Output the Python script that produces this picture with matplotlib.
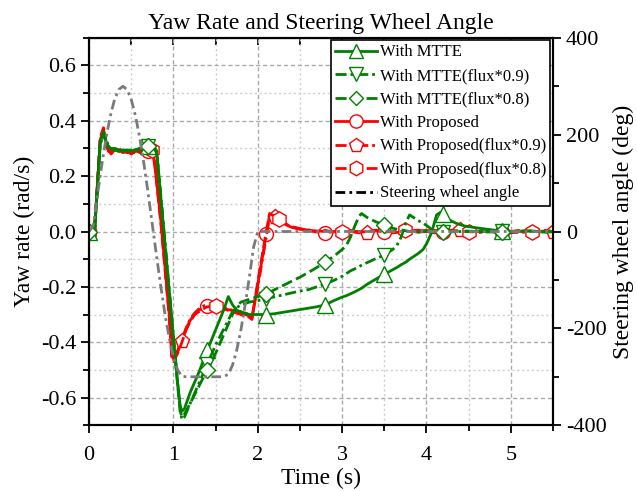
import matplotlib
matplotlib.use("Agg")
import matplotlib.pyplot as plt
import numpy as np
from matplotlib.lines import Line2D
from matplotlib.ticker import MultipleLocator, FormatStrFormatter

plt.rcParams["font.family"] = ["Liberation Serif", "DejaVu Serif"]
plt.rcParams["axes.unicode_minus"] = False

# yaw rate, MTTE controller (three flux levels)
t_mtte = [
    0, 0.03, 0.06, 0.1, 0.13, 0.17, 0.2, 0.25, 0.3, 0.35,
    0.4, 0.45, 0.5, 0.55, 0.6, 0.65, 0.7, 0.74, 0.8, 0.85,
    0.9, 0.95, 1.0, 1.05, 1.08, 1.1, 1.13, 1.2, 1.3, 1.4,
    1.5, 1.6, 1.65, 1.7, 1.75, 1.8, 1.9, 2.0, 2.1, 2.2,
    2.3, 2.4, 2.5, 2.6, 2.7, 2.8, 2.9, 3.0, 3.05, 3.1,
    3.15, 3.2, 3.23, 3.3, 3.4, 3.5, 3.6, 3.65, 3.7, 3.76,
    3.8, 3.85, 3.9, 3.96, 4.0, 4.06, 4.12, 4.17, 4.2, 4.25,
    4.35, 4.45, 4.6, 4.8, 4.9, 5.0, 5.2, 5.4, 5.5,
]
yaw_mtte = [
    0.0, 0.01, -0.01, 0.17, 0.32, 0.36, 0.32, 0.30, 0.30, 0.295,
    0.29, 0.295, 0.29, 0.295, 0.30, 0.305, 0.31, 0.32, 0.29, 0.12,
    -0.05, -0.22, -0.39, -0.55, -0.63, -0.65, -0.64, -0.58, -0.51, -0.43,
    -0.355, -0.28, -0.235, -0.265, -0.285, -0.29, -0.30, -0.30, -0.30, -0.297,
    -0.292, -0.287, -0.282, -0.277, -0.272, -0.265, -0.25, -0.237, -0.232, -0.225,
    -0.218, -0.21, -0.205, -0.19, -0.172, -0.155, -0.138, -0.13, -0.12, -0.11,
    -0.10, -0.09, -0.08, -0.065, -0.045, -0.005, 0.06, 0.07, 0.065, 0.045,
    0.03, 0.02, 0.013, 0.005, 0.003, 0.0, 0.002, -0.002, 0.0,
]
yaw_mtte_09 = [
    0.0, 0.01, -0.01, 0.16, 0.31, 0.36, 0.33, 0.30, 0.295, 0.29,
    0.29, 0.295, 0.29, 0.295, 0.30, 0.305, 0.31, 0.315, 0.29, 0.13,
    -0.04, -0.21, -0.38, -0.55, -0.65, -0.68, -0.67, -0.62, -0.55, -0.48,
    -0.41, -0.35, -0.32, -0.29, -0.275, -0.265, -0.255, -0.25, -0.243, -0.236,
    -0.229, -0.222, -0.215, -0.21, -0.20, -0.19, -0.177, -0.162, -0.152, -0.142,
    -0.135, -0.127, -0.122, -0.112, -0.098, -0.085, -0.065, -0.05, -0.02, 0.035,
    0.06, 0.05, 0.04, 0.03, 0.022, 0.008, 0.004, 0.002, 0.0, 0.003,
    -0.002, 0.002, 0.0, -0.002, 0.002, 0.0, 0.002, -0.002, 0.0,
]
yaw_mtte_08 = [
    0.0, 0.01, -0.01, 0.17, 0.32, 0.355, 0.32, 0.30, 0.295, 0.29,
    0.295, 0.29, 0.295, 0.29, 0.30, 0.305, 0.31, 0.315, 0.29, 0.12,
    -0.05, -0.22, -0.39, -0.56, -0.65, -0.67, -0.66, -0.62, -0.56, -0.50,
    -0.44, -0.37, -0.335, -0.30, -0.27, -0.255, -0.245, -0.235, -0.227, -0.21,
    -0.195, -0.18, -0.165, -0.148, -0.13, -0.11, -0.09, -0.065, -0.05, -0.02,
    0.02, 0.055, 0.065, 0.05, 0.035, 0.024, 0.012, 0.008, 0.005, 0.002,
    0.0, 0.003, -0.002, 0.0, 0.002, -0.002, 0.0, 0.002, 0.0, -0.002,
    0.002, 0.0, -0.002, 0.002, 0.0, -0.002, 0.002, 0.0, -0.002,
]

# yaw rate, proposed controller (three flux levels)
t_prop = [
    0, 0.03, 0.06, 0.1, 0.13, 0.17, 0.2, 0.23, 0.26, 0.3,
    0.35, 0.4, 0.45, 0.5, 0.55, 0.6, 0.65, 0.7, 0.75, 0.78,
    0.85, 0.9, 0.95, 0.98, 1.0, 1.05, 1.1, 1.15, 1.2, 1.25,
    1.3, 1.35, 1.4, 1.5, 1.6, 1.7, 1.8, 1.9, 1.93, 2.0,
    2.05, 2.1, 2.14, 2.2, 2.25, 2.3, 2.4, 2.5, 2.6, 2.7,
    2.8, 2.9, 3.0, 3.1, 3.2, 3.3, 3.4, 3.5, 3.6, 3.75,
    3.9, 4.0, 4.1, 4.2, 4.3, 4.4, 4.5, 4.6, 4.75, 4.9,
    5.0, 5.1, 5.25, 5.4, 5.5,
]
yaw_prop = [
    0.0, 0.01, -0.01, 0.18, 0.33, 0.37, 0.32, 0.29, 0.285, 0.30,
    0.295, 0.285, 0.29, 0.28, 0.29, 0.29, 0.295, 0.29, 0.29, 0.24,
    0.04, -0.13, -0.30, -0.45, -0.46, -0.43, -0.39, -0.35, -0.32, -0.30,
    -0.285, -0.275, -0.27, -0.27, -0.28, -0.285, -0.295, -0.305, -0.315, -0.19,
    -0.10, -0.01, 0.06, 0.05, 0.04, 0.03, 0.015, 0.01, 0.005, 0.0,
    -0.005, 0.0, 0.005, 0.0, -0.005, 0.0, 0.005, 0.0, -0.005, 0.0,
    0.005, 0.0, -0.005, 0.0, 0.005, 0.0, -0.005, 0.0, 0.005, 0.0,
    -0.005, 0.0, 0.005, 0.0, -0.005,
]
yaw_prop_09 = [
    0.0, 0.012, -0.008, 0.17, 0.32, 0.365, 0.315, 0.29, 0.29, 0.295,
    0.29, 0.29, 0.285, 0.285, 0.285, 0.29, 0.29, 0.295, 0.29, 0.245,
    0.05, -0.12, -0.29, -0.44, -0.455, -0.435, -0.395, -0.35, -0.315, -0.295,
    -0.28, -0.27, -0.265, -0.27, -0.275, -0.285, -0.29, -0.30, -0.31, -0.20,
    -0.11, -0.02, 0.055, 0.052, 0.042, 0.03, 0.018, 0.01, 0.004, 0.002,
    0.0, -0.004, 0.0, 0.004, 0.0, -0.004, 0.0, 0.004, 0.0, -0.004,
    0.0, 0.004, 0.0, -0.004, 0.0, 0.004, 0.0, -0.004, 0.0, 0.004,
    0.0, -0.004, 0.0, 0.004, 0.0,
]
yaw_prop_08 = [
    0.0, 0.008, -0.012, 0.19, 0.34, 0.375, 0.325, 0.295, 0.28, 0.295,
    0.30, 0.29, 0.29, 0.285, 0.295, 0.285, 0.29, 0.29, 0.295, 0.235,
    0.03, -0.14, -0.31, -0.46, -0.47, -0.44, -0.40, -0.355, -0.325, -0.30,
    -0.29, -0.28, -0.272, -0.27, -0.28, -0.29, -0.30, -0.31, -0.318, -0.18,
    -0.09, 0.0, 0.065, 0.055, 0.045, 0.032, 0.016, 0.008, 0.006, -0.002,
    0.004, -0.002, 0.0, 0.004, -0.002, 0.0, 0.004, -0.002, 0.0, 0.004,
    -0.002, 0.0, 0.004, -0.002, 0.0, 0.004, -0.002, 0.0, 0.004, -0.002,
    0.0, 0.004, -0.002, 0.0, 0.004,
]

# steering wheel input (deg), sine with dwell
t_steer = [
    0, 0.05, 0.1, 0.15, 0.2, 0.25, 0.3, 0.35, 0.4, 0.45,
    0.5, 0.55, 0.6, 0.65, 0.7, 0.75, 0.8, 0.85, 0.9, 0.95,
    1.0, 1.05, 1.1, 1.15, 1.2, 1.3, 1.4, 1.5, 1.55, 1.6,
    1.65, 1.7, 1.75, 1.8, 1.85, 1.9, 1.95, 2.0, 2.5, 3.0,
    3.5, 4.0, 4.5, 5.0, 5.5,
]
steer = [
    0, 13, 78, 138, 193, 238, 272, 293, 300, 293,
    272, 238, 193, 139, 78, 13, -52, -114, -172, -220,
    -260, -286, -299, -300, -300, -300, -300, -300, -300, -299,
    -295, -276, -245, -203, -151, -94, -32, 0, 0, 0,
    0, 0, 0, 0, 0,
]

marks_07 = [0, 0.7, 1.4, 2.1, 2.8, 3.5, 4.2, 4.9]
marks_pent = [0, 1.1, 2.2, 3.3, 4.4, 5.5]
marks_hex = [0, 0.75, 1.5, 2.25, 3.0, 3.75, 4.5, 5.25]


def mark_idx(t, times):
    t = np.asarray(t)
    return [int(np.argmin(np.abs(t - m))) for m in times]


GREEN = "#008000"
RED = "#ff0000"
dash = (0, (4, 1.6))
dashdot = (0, (4, 1.4, 1, 1.4))

fig = plt.figure(figsize=(6.37, 4.91), dpi=100)
ax = fig.add_axes([0.140, 0.134, 0.728, 0.789])
ax2 = ax.twinx()

mk = dict(mfc="white", mew=1.0)
series = [
    (t_prop, yaw_prop, RED, "-", "o", 10, marks_07, "With Proposed"),
    (t_prop, yaw_prop_09, RED, dashdot, "p", 11, marks_pent, "With Proposed(flux*0.9)"),
    (t_prop, yaw_prop_08, RED, dash, "h", 11, marks_hex, "With Proposed(flux*0.8)"),
    (t_mtte, yaw_mtte, GREEN, "-", "^", 11, marks_07, "With MTTE"),
    (t_mtte, yaw_mtte_09, GREEN, dashdot, "v", 10, marks_07, "With MTTE(flux*0.9)"),
    (t_mtte, yaw_mtte_08, GREEN, dash, "D", 8, marks_07, "With MTTE(flux*0.8)"),
]
handles = {}
for t, y, c, ls, m, ms, marks, lab in series:
    ln, = ax.plot(t, y, color=c, ls=ls, lw=2, marker=m, ms=ms, mec=c,
                  markevery=mark_idx(t, marks), label=lab, **mk)
    handles[lab] = ln

ax2.plot(t_steer, steer, color="#7a7a7a", lw=2, ls=(0, (3.5, 1.5, 1, 1.5)))
steer_handle = Line2D([], [], color="black", lw=2, ls=(0, (3.5, 1.5, 1, 1.5)))

ax.set_xlim(0, 5.5)
ax.set_ylim(-0.7, 0.7)
ax2.set_ylim(-400, 400)

ax.xaxis.set_major_locator(MultipleLocator(1))
ax.xaxis.set_minor_locator(MultipleLocator(0.5))
ax.yaxis.set_major_locator(MultipleLocator(0.2))
ax.yaxis.set_minor_locator(MultipleLocator(0.1))
ax.yaxis.set_major_formatter(FormatStrFormatter("%.1f"))
ax2.yaxis.set_major_locator(MultipleLocator(200))
ax2.yaxis.set_minor_locator(MultipleLocator(100))

ax.grid(which="major", color="#aaaaaa", ls=(0, (3, 2)), lw=1)
ax.grid(which="minor", color="#cccccc", ls=(0, (1.5, 2)), lw=1)

for a in (ax, ax2):
    a.tick_params(which="both", direction="out", labelsize=16, width=1.3)
    a.tick_params(which="major", length=6)
    a.tick_params(which="minor", length=4)
    for s in a.spines.values():
        s.set_linewidth(1.5)
ax.tick_params(axis="x", which="major", pad=9)

top = ax.secondary_xaxis("top")
top.xaxis.set_major_locator(MultipleLocator(0.5))
top.tick_params(direction="in", length=5, width=1.3, labeltop=False)

ax.set_xlabel("Time (s)", fontsize=17, labelpad=2)
ax.set_ylabel("Yaw rate (rad/s)", fontsize=17, labelpad=4)
ax2.set_ylabel("Steering wheel angle (deg)", fontsize=17, labelpad=4)
ax.set_title("Yaw Rate and Steering Wheel Angle", fontsize=17, pad=6)

order = ["With MTTE", "With MTTE(flux*0.9)", "With MTTE(flux*0.8)",
         "With Proposed", "With Proposed(flux*0.9)", "With Proposed(flux*0.8)"]
leg = ax2.legend([handles[k] for k in order] + [steer_handle],
                 order + ["Steering wheel angle"],
                 loc="upper right", fontsize=12, frameon=True, fancybox=False,
                 edgecolor="black", framealpha=1, borderaxespad=0.15,
                 handlelength=2.5, handletextpad=0.2, labelspacing=0.45,
                 borderpad=0.25, markerscale=0.95)
leg.get_frame().set_linewidth(1.2)

fig.savefig("out.png", dpi=100)
